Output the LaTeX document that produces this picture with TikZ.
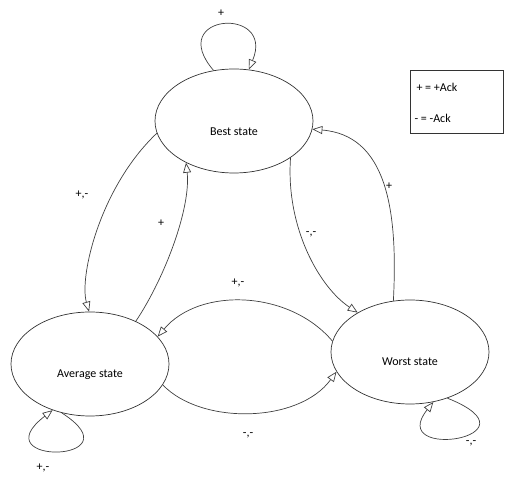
\documentclass[tikz,border=0pt]{standalone}
\usepackage{fontspec}
\setmainfont{Carlito}
\usepackage{tikz}
\usetikzlibrary{arrows.meta,shapes.geometric}

\begin{document}
\begin{tikzpicture}[x=1pt, y=1pt,
  every node/.style={font=\fontsize{12}{14}\selectfont},
  state/.style={ellipse, draw=black!80, line width=0.7pt, minimum width=158pt, minimum height=104pt, inner sep=0pt},
  trans/.style={draw=black!75, line width=0.7pt, -{Triangle[open, length=10pt, width=8pt]}},
  lbl/.style={inner sep=1pt}]
\useasboundingbox (0,0) rectangle (507,477);
% States
\node[state, label={[yshift=-11pt]center:Best state}] (best) at (234,356) {};
\node[state, label={[yshift=-11pt]center:Average state}] (avg) at (90,113) {};
\node[state, label={[yshift=-10pt]center:Worst state}] (worst) at (410,125) {};
% Self loops
\draw[trans] (best.112) .. controls +(-49,57) and +(27,64) .. (best.74);
\node[lbl] (lpbest) at (221,464) {+};
\draw[trans] (avg.240) .. controls +(78,-50) and +(-73,-56) .. (avg.231);
\node[lbl] (lpavg) at (43,9) {+,-};
\draw[trans] (worst.309) .. controls +(98,-39) and +(-48,-60) .. (worst.295);
\node[lbl] (lpworst) at (471,34) {-,-};
% Best <-> Average
\draw[trans] (best.189) .. controls +(-57,-54) and +(-10,35) .. (avg.91);
\node[lbl] (lbestavg) at (82,282) {+,-};
\draw[trans] (avg.43) .. controls +(30,45) and +(5,-44) .. (best.221);
\node[lbl] (lavgbest) at (161,254) {+};
% Best <-> Worst
\draw[trans] (best.327) .. controls +(-5,-70) and +(-38,25) .. (worst.143);
\node[lbl] (lbestworst) at (311,243) {-,-};
\draw[trans] (worst.108) .. controls +(5,94) and +(73,-6) .. (best.354);
\node[lbl] (lworstbest) at (389,291) {+};
% Average <-> Worst
\draw[trans] (worst.172) .. controls +(-43,51) and +(42,50) .. (avg.22);
\node[lbl] (lworstavg) at (238,194) {+,-};
\draw[trans] (avg.344) .. controls +(38,-40) and +(-38,-52) .. (worst.195);
\node[lbl] (lavgworst) at (248,42) {-,-};
% Legend
\node[draw=black!80, line width=0.6pt, minimum width=93pt, minimum height=63pt, inner sep=0pt, anchor=north west] (legend) at (410,407) {};
\node[anchor=west] (plusack) at (413,390) {+ = +Ack};
\node[anchor=west] (minusack) at (411,359) {- = -Ack};
\end{tikzpicture}
\end{document}
